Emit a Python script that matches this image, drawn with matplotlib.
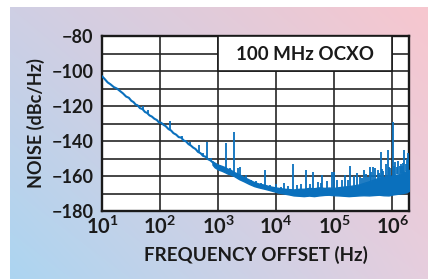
import numpy as np
import matplotlib
matplotlib.use("Agg")
from matplotlib import pyplot as plt
from matplotlib.patches import Rectangle

plt.rcParams['font.family'] = ['Lato', 'DejaVu Sans']
plt.rcParams['mathtext.fontset'] = 'custom'
plt.rcParams['mathtext.rm'] = 'Lato'
plt.rcParams['mathtext.bf'] = 'Lato:bold'

# low offset part of the trace (thin line), Hz / dBc/Hz
curve_freq = [10, 11, 12.5, 14, 16, 18, 20, 23, 26, 29, 32, 35, 38, 41, 45, 50,
              55, 60, 66, 72, 80, 88, 96, 105, 115, 125, 140, 155, 170, 190,
              210, 230, 255, 280, 310, 340, 370, 410, 450, 500, 550, 610, 670,
              740, 820, 900]
curve_noise = [-103, -104.4, -106.5, -107.6, -109.2, -110.0, -111.2, -112.8,
               -114.6, -115.3, -117.0, -117.8, -119.2, -119.6, -121.2, -121.8,
               -123.4, -124.0, -125.4, -126.0, -127.3, -128.0, -129.4, -129.6,
               -130.8, -131.5, -133.2, -134.0, -135.5, -136.4, -137.8, -138.0,
               -139.7, -140.2, -141.8, -142.6, -143.7, -144.6, -146.2, -147.0,
               -148.5, -149.0, -150.4, -151.1, -152.4, -153.0]

# dense noise floor above ~1 kHz, read as lower / upper edge of the band
band_freq = [800, 870, 1000, 1150, 1300, 1450, 1600, 1900, 2300, 2800, 3400,
             4200, 5000, 6300, 7600, 9300, 11000, 14000, 17000, 20000, 25000,
             30000, 37000, 45000, 55000, 68000, 81000, 100000, 120000, 148000,
             178000, 220000, 270000, 320000, 400000, 480000, 590000, 710000,
             870000, 1050000, 1290000, 1510000, 1780000, 1950000]
band_low = [-153.5, -155.0, -156.3, -157.0, -157.8, -158.6, -159.0, -160.1,
            -161.8, -163.1, -164.5, -165.8, -166.5, -167.3, -168.0, -168.8,
            -169.5, -170.1, -170.6, -171.1, -171.3, -171.5, -171.2, -171.5,
            -171.1, -170.8, -170.7, -171.0, -171.1, -171.3, -171.5, -171.3,
            -171.1, -171.0, -171.1, -170.9, -170.7, -171.0, -171.1, -170.5,
            -170.1, -169.8, -169.2, -168.5]
band_high = [-151.5, -152.6, -153.5, -154.2, -154.9, -155.8, -156.2, -157.8,
             -159.0, -160.6, -162.0, -163.5, -164.3, -165.0, -165.8, -166.4,
             -166.8, -167.3, -167.5, -167.7, -167.3, -167.3, -166.8, -167.0,
             -166.5, -166.8, -166.6, -166.8, -166.4, -166.0, -165.8, -165.3,
             -164.8, -164.0, -163.0, -162.0, -161.0, -160.5, -160.0, -159.5,
             -159.0, -158.0, -157.0, -156.5]

# spurs: frequency, level at the foot, level at the tip
spur_freq = [51, 62, 151, 240, 330, 468, 560, 646, 760, 1380, 1585, 1860,
             2190, 2400, 3000, 3700, 4500, 5400, 6460, 8000, 10000, 12000,
             13500, 16000, 19500, 23000, 27000, 33000, 38000, 43600, 52000,
             59000, 63000, 75000, 91000, 100000, 112000, 135000, 155000,
             170000, 190000, 219000, 250000, 282000, 300000, 324000, 360000,
             380000, 407000, 440000, 468000, 513000, 560000, 600000, 631000,
             680000, 708000, 780000, 832000, 880000, 933000, 1020000, 1070000,
             1120000, 1200000, 1260000, 1340000, 1410000, 1480000, 1550000,
             1620000, 1700000, 1780000, 1900000]
spur_base = [-122, -124, -133.5, -139, -142, -146.5, -148.5, -149.5, -151.5,
             -156, -157, -158, -159, -160, -162, -164, -165, -166, -166, -167,
             -167, -168, -168, -168, -168, -168, -168, -168, -168, -168, -167,
             -167, -167, -167, -167, -167, -167, -167, -167, -166, -166, -166,
             -165, -165, -165, -165, -164, -164, -164, -163, -163, -163, -162,
             -162, -162, -161, -161, -161, -160, -160, -160, -160, -160, -160,
             -159, -159, -159, -158, -158, -158, -158, -157, -157, -157]
spur_top = [-120, -122.5, -128.5, -137, -140.5, -142.5, -147, -140.6, -149.5,
            -140.9, -155.5, -134.8, -155.2, -154.9, -159.5, -162, -163, -164,
            -156.8, -165, -164.5, -166, -163.9, -165.5, -153.0, -165, -164.5,
            -156.8, -164.5, -157.8, -163.5, -164.0, -159.7, -163, -157.8,
            -157.8, -162.5, -162, -159.3, -162, -154.5, -160.0, -158.5, -160.5,
            -161, -156.8, -159.0, -160.5, -154.9, -157.5, -155.0, -155.2,
            -156.5, -158, -146.3, -156, -157.0, -153.0, -145.3, -155, -155.5,
            -129.1, -154, -152.0, -155, -151.5, -154, -153.0, -154.5, -152.5,
            -145.3, -153, -150.0, -147.0]

y_major = [-180, -160, -140, -120, -100, -80]
x_major = [1, 2, 3, 4, 5, 6]
title = "100 MHz OCXO"

blue = '#0a70bd'
ink = '#1a1a1a'

fig = plt.figure(figsize=(4.28, 2.79), dpi=100)

# soft gradient panel behind the chart
bg = fig.add_axes([10 / 428, 0, 1 - 10 / 428, 1 - 7 / 279], zorder=-10)
tl = np.array([207, 207, 228]) / 255
tr = np.array([247, 199, 207]) / 255
bl = np.array([172, 213, 241]) / 255
br = np.array([230, 206, 222]) / 255
u = np.linspace(0, 1, 200)[None, :, None]
v = np.linspace(0, 1, 130)[:, None, None]
grad = (1 - v) * ((1 - u) * tl + u * tr) + v * ((1 - u) * bl + u * br)
bg.imshow(grad, aspect='auto', interpolation='bilinear')
bg.axis('off')

ax = fig.add_axes([102 / 428, 1 - 211 / 279, 307 / 428, 175 / 279])
ax.set_facecolor('white')
ax.set_xscale('log')
ax.set_xlim(10, 1.95e6)
ax.set_ylim(-180, -80)

ax.set_xticks([10.0 ** k for k in x_major])
ax.set_xticklabels([r'$\mathbf{10^{%d}}$' % k for k in x_major])
ax.xaxis.set_minor_locator(plt.NullLocator())
ax.set_yticks(y_major)
ax.set_yticklabels(['\u2212%d' % abs(v) for v in y_major])
ax.set_yticks(np.arange(-170, -80, 20), minor=True)
ax.grid(True, which='both', color='#262626', lw=1.2)
ax.tick_params(which='both', length=0, labelcolor=ink)
ax.tick_params(axis='y', pad=6, labelsize=13)
ax.tick_params(axis='x', pad=3, labelsize=14.5)
for lbl in ax.get_yticklabels():
    lbl.set_fontweight('bold')
for s in ax.spines.values():
    s.set_linewidth(1.7)
    s.set_color(ink)

ax.fill_between(band_freq, band_low, band_high, color=blue, lw=1.0, zorder=3)
ax.plot(curve_freq, curve_noise, color=blue, lw=1.5, zorder=3)
ax.vlines(spur_freq, spur_base, spur_top, color=blue, lw=1.3, zorder=3)

# label box over the top rows
ax.add_patch(Rectangle((1e3, -100), 1e6 - 1e3, 20, facecolor='white',
                       edgecolor=ink, lw=1.2, zorder=4))
ax.text(np.sqrt(1e3 * 1e6), -90.5, title, ha='center', va='center',
        fontsize=13.5, fontweight='bold', color=ink, zorder=5)

ax.set_xlabel('FREQUENCY OFFSET (Hz)', fontsize=13.5, fontweight='bold',
              color=ink, labelpad=6)
ax.set_ylabel('NOISE (dBc/Hz)', fontsize=13, fontweight='bold',
              color=ink, labelpad=5)

fig.savefig('out.png', dpi=100)
